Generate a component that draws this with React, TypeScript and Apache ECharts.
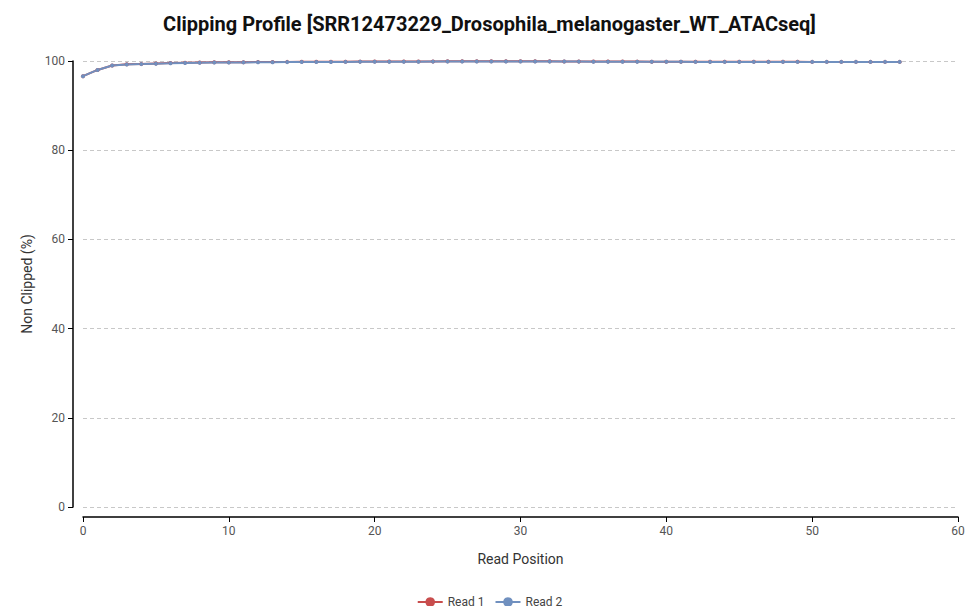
import React, { useEffect, useRef } from "react";
import * as echarts from "echarts";

const positions: number[] = Array.from({ length: 57 }, (_, i) => i);
const read1: number[] = [
  96.6, 98.0, 99.0, 99.25, 99.35, 99.45, 99.55, 99.6, 99.65, 99.7,
  99.72, 99.74, 99.76, 99.78, 99.8, 99.82, 99.83, 99.84, 99.85, 99.86,
  99.87, 99.88, 99.89, 99.9, 99.91, 99.92, 99.93, 99.94, 99.95, 99.95,
  99.94, 99.93, 99.92, 99.91, 99.9, 99.89, 99.88, 99.87, 99.86, 99.85,
  99.84, 99.84, 99.83, 99.83, 99.82, 99.82, 99.82, 99.81, 99.81, 99.81,
  99.8, 99.8, 99.8, 99.8, 99.8, 99.8, 99.8,
];
const read2: number[] = [
  96.6, 98.0, 99.0, 99.2, 99.3, 99.4, 99.5, 99.55, 99.6, 99.65,
  99.67, 99.69, 99.71, 99.73, 99.75, 99.77, 99.78, 99.79, 99.8, 99.81,
  99.82, 99.83, 99.84, 99.85, 99.86, 99.87, 99.88, 99.89, 99.9, 99.9,
  99.9, 99.89, 99.88, 99.87, 99.86, 99.85, 99.84, 99.83, 99.82, 99.82,
  99.81, 99.81, 99.8, 99.8, 99.8, 99.8, 99.8, 99.8, 99.8, 99.8,
  99.8, 99.8, 99.8, 99.8, 99.8, 99.8, 99.8,
];
const seriesNames = ["Read 1", "Read 2"];
const colors = ["#c84d4d", "#7090bf"];

export default function App() {
  const ref = useRef<HTMLDivElement>(null);
  useEffect(() => {
    const chart = echarts.init(ref.current!, null, { renderer: "svg" });
    const font = "Roboto, sans-serif";
    chart.setOption({
      animation: false,
      textStyle: { fontFamily: font },
      title: {
        text: "Clipping Profile [SRR12473229_Drosophila_melanogaster_WT_ATACseq]",
        left: "center",
        top: 9,
        textStyle: { fontFamily: font, fontSize: 20, fontWeight: "bold", color: "#111" },
      },
      legend: {
        bottom: 1,
        left: "center",
        itemWidth: 25,
        itemHeight: 12,
        itemGap: 10,
        textStyle: { fontFamily: font, fontSize: 12, color: "#444" },
        data: seriesNames,
      },
      grid: { left: 83, right: 21, top: 61, bottom: 107, containLabel: false },
      xAxis: {
        type: "value",
        min: 0,
        max: 60,
        interval: 10,
        offset: 10,
        name: "Read Position",
        nameLocation: "middle",
        nameGap: 35,
        nameTextStyle: { fontFamily: font, fontSize: 14, color: "#333" },
        axisLine: { show: true, onZero: false, lineStyle: { color: "#000", width: 1.5 } },
        axisTick: { show: true, length: 5, lineStyle: { color: "#000" } },
        axisLabel: { fontFamily: font, fontSize: 12, color: "#555", margin: 8 },
        splitLine: { show: false },
      },
      yAxis: {
        type: "value",
        min: 0,
        max: 100,
        interval: 20,
        offset: 10,
        name: "Non Clipped (%)",
        nameLocation: "middle",
        nameGap: 28,
        nameTextStyle: { fontFamily: font, fontSize: 14, color: "#333" },
        axisLine: { show: true, onZero: false, lineStyle: { color: "#000", width: 1.5 } },
        axisTick: { show: true, length: 5, lineStyle: { color: "#000" } },
        axisLabel: { fontFamily: font, fontSize: 12, color: "#555", margin: 8 },
        splitLine: { show: true, lineStyle: { color: "#c8c8c8", type: [4, 3] } },
      },
      series: [read1, read2].map((vals, k) => ({
        name: seriesNames[k],
        type: "line",
        data: positions.map((p, i) => [p, vals[i]]),
        color: colors[k],
        symbol: "circle",
        symbolSize: 4,
        showSymbol: true,
        lineStyle: { width: 2, color: colors[k] },
        itemStyle: { color: colors[k] },
      })),
    });
    return () => chart.dispose();
  }, []);
  return <div ref={ref} style={{ width: 979, height: 614, margin: -8 }} />;
}
